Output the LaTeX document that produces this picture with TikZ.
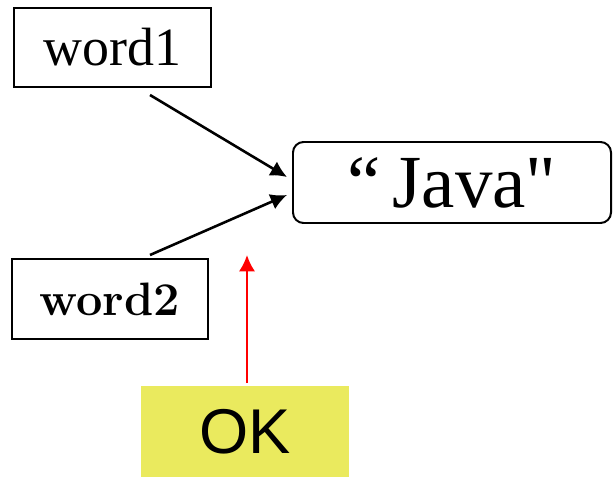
\documentclass[tikz,border=0pt]{standalone}
\usepackage{fontspec}
\usepackage{xcolor}
\setmainfont{Liberation Serif}
\newfontfamily\oksans{Liberation Sans}
\newfontfamily\javafont{Liberation Serif}
\usetikzlibrary{calc}
\usetikzlibrary{arrows.meta}
\definecolor{okyellow}{RGB}{234,234,94}
\tikzset{%
    wordbox/.style={inner sep=0pt,outer sep=0pt,shape=rectangle,draw,line width=1.7pt},
    strbox/.style={inner sep=0pt,outer sep=0pt,shape=rectangle,draw,line width=1.7pt,rounded corners=9pt},
    okbox/.style={inner sep=0pt,outer sep=0pt,shape=rectangle,fill=okyellow},
    ref/.style={->,line width=2.2pt,>={Latex[length=14pt,width=14pt]}},
}
\begin{document}
\begin{tikzpicture}[x=0.03cm,y=-0.03cm]
        \useasboundingbox (0,0) rectangle (613,477);
        \node [wordbox,minimum width=5.91cm,minimum height=2.37cm,font=\fontsize{46}{50}\selectfont] (word1) at (112.5,47.5) {word1};
        \node [wordbox,minimum width=5.88cm,minimum height=2.4cm,font=\fontsize{40}{44}\selectfont\rmfamily] (word2) at (110,299) {\fontspec{Latin Modern Roman}\bfseries word2};
        \node [strbox,minimum width=9.54cm,minimum height=2.43cm,font=\javafont\fontsize{64}{70}\selectfont] (java) at (452,182.5) {“\kern10pt Java"};
        \node [okbox,minimum width=6.24cm,minimum height=2.73cm,font=\oksans\fontsize{54}{60}\selectfont] (ok) at (245,431.5) {OK};

        \draw [ref] ([shift={(37.5,8)}]word1.south) -- ([shift={(-6,-5.5)}]java.west);
        \draw [ref] ([shift={(40,-4)}]word2.north) -- ([shift={(-6,12.5)}]java.west);
        \coordinate (oktip) at (247,255);
        \draw [ref,red] ([shift={(2,-3)}]ok.north) -- (oktip);
    \end{tikzpicture}
\end{document}
